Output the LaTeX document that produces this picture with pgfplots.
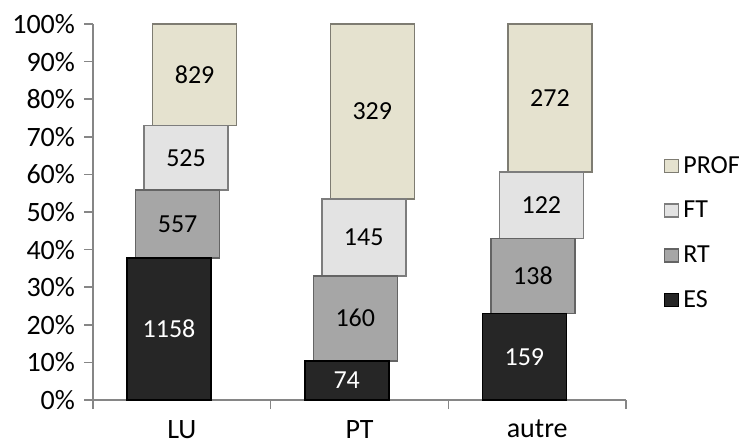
\documentclass[border=0pt]{standalone}
\usepackage{fontspec}
\setmainfont{Carlito}
\usepackage{pgfplots}
\pgfplotsset{compat=1.18}
\usepackage{pgfplotstable}

\definecolor{cES}{HTML}{262626}
\definecolor{cRT}{HTML}{A6A6A6}
\definecolor{cFT}{HTML}{E3E3E3}
\definecolor{cPROF}{HTML}{E5E2CF}
\definecolor{axgray}{HTML}{868686}

% x: 0=LU, 1=PT, 2=autre ; pct = share of the bar ; mid = centre of segment ; n = count
\pgfplotstableread{
x pct mid n
0 37.73 18.87 1158
1 10.45 5.23 74
2 23.01 11.51 159
}\tES
\pgfplotstableread{
x pct mid n
0 18.15 46.81 557
1 22.60 21.75 160
2 19.97 33.00 138
}\tRT
\pgfplotstableread{
x pct mid n
0 17.11 64.44 525
1 20.48 43.29 145
2 17.66 51.81 122
}\tFT
\pgfplotstableread{
x pct mid n
0 27.01 86.50 829
1 46.47 76.77 329
2 39.36 80.32 272
}\tPROF

\begin{document}
\begin{tikzpicture}
\begin{axis}[
  scale only axis, width=266.5pt, height=188pt,
  xmin=-0.5, xmax=2.5, ymin=0, ymax=100,
  ybar stacked, bar width=42pt,
  axis x line=bottom, axis y line=left,
  axis line style={-, axgray, line width=0.8pt},
  xtick={0,1,2}, xticklabels={LU,PT,autre},
  minor xtick={-0.5,0.5,1.5,2.5},
  major x tick style={draw=none},
  minor tick length=4.5pt,
  ytick={0,10,...,100},
  yticklabel={\pgfmathprintnumber{\tick}\%},
  tick align=outside, major tick length=4.5pt,
  tick style={axgray, line width=0.8pt},
  /pgf/number format/assume math mode=true,
  tick label style={font=\fontsize{14}{16}\selectfont},
  xticklabel style={yshift=-2pt},
  yticklabel style={xshift=-1pt},
  reverse legend,
  legend style={at={(rel axis cs:1.07,0.443)}, anchor=west, draw=none, fill=none,
    inner sep=0pt, row sep=8.5pt, cells={anchor=west}, font=\fontsize{13}{15}\selectfont},
  legend image code/.code={\fill[#1] (0pt,-3pt) rectangle (7pt,3.5pt);},
]
\addplot[fill=cES, draw=black, line width=0.8pt, bar shift=-6.4pt] table[x=x,y=pct]{\tES};
\addlegendentry{ES}
\addplot[fill=cRT, draw=cRT!60!black, line width=0.8pt, bar shift=-2.1pt] table[x=x,y=pct]{\tRT};
\addlegendentry{RT}
\addplot[fill=cFT, draw=cFT!55!black, line width=0.8pt, bar shift=2.1pt] table[x=x,y=pct]{\tFT};
\addlegendentry{FT}
\addplot[fill=cPROF, draw=cPROF!55!black, line width=0.8pt, bar shift=6.4pt] table[x=x,y=pct]{\tPROF};
\addlegendentry{PROF}
\coordinate (bbsw) at (rel axis cs:-0.1745,-0.1197);
\coordinate (bbne) at (rel axis cs:1.2176,1.0638);
\end{axis}
\begin{axis}[
  scale only axis, width=266.5pt, height=188pt,
  xmin=-0.5, xmax=2.5, ymin=0, ymax=100, hide axis,
  nodes near coords, point meta=explicit symbolic,
  every node near coord/.append style={font=\fontsize{13}{15}\selectfont},
]
\addplot[draw=none, mark=none, nodes near coords,
  every node near coord/.append style={anchor=center, xshift=-6.4pt, text=white}]
  table[x=x,y=mid,meta=n]{\tES};
\addplot[draw=none, mark=none, nodes near coords,
  every node near coord/.append style={anchor=center, xshift=-2.1pt, text=black}]
  table[x=x,y=mid,meta=n]{\tRT};
\addplot[draw=none, mark=none, nodes near coords,
  every node near coord/.append style={anchor=center, xshift=2.1pt, text=black}]
  table[x=x,y=mid,meta=n]{\tFT};
\addplot[draw=none, mark=none, nodes near coords,
  every node near coord/.append style={anchor=center, xshift=6.4pt, text=black}]
  table[x=x,y=mid,meta=n]{\tPROF};
\end{axis}
\pgfresetboundingbox
\path (bbsw) rectangle (bbne);
\end{tikzpicture}
\end{document}
